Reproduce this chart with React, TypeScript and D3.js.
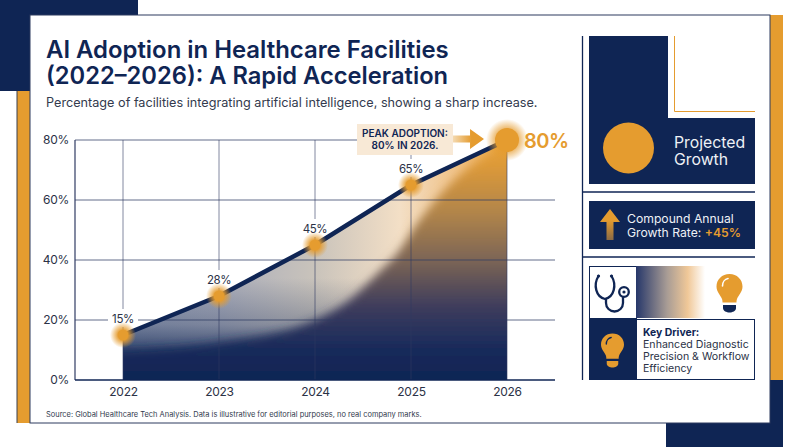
import * as d3 from "d3";
import { useEffect, useRef } from "react";

const WIDTH = 800;
const HEIGHT = 447;

const NAVY = "#0f2554";
const ORANGE = "#e59c2f";
const FONT = "Inter, 'Noto Sans', sans-serif";

const years = [2022, 2023, 2024, 2025, 2026];
const adoption = [15, 28, 45, 65, 80];
const yTicks = [0, 20, 40, 60, 80];

// edge of the dark/orange swoosh inside the area
const swooshYears = [2021.5, 2022, 2023, 2024, 2024.35, 2024.68, 2024.85, 2025.06, 2025.23, 2025.48, 2025.8, 2026.5];
const swooshValues = [9.5, 10, 12.5, 20, 26.5, 36.5, 42, 52, 59, 67.5, 75, 84];

const margin = { top: 140, right: 245, bottom: 67, left: 75 };
const LABEL_BOX = { x: 357, y: 124, w: 96, h: 31 };

function Bulb({ x, y, r, base, mark }: { x: number; y: number; r: number; base: string; mark: string }) {
    return (
        <g transform={`translate(${x},${y}) scale(${r / 13})`}>
            <path
                d="M0 -13 C7.5 -13 13 -7.5 13 -0.5 C13 5 9 8 7.5 12 C7 13.5 7 14.5 7 15.5 L-7 15.5 C-7 14.5 -7 13.5 -7.5 12 C-9 8 -13 5 -13 -0.5 C-13 -7.5 -7.5 -13 0 -13 Z"
                fill={ORANGE}
            />
            <path d="M-7 -1 C-7 -5 -4.5 -8 -1.5 -8.5" fill="none" stroke={mark} strokeWidth={1.6} strokeLinecap="round" />
            <path d="M-6.5 18 L6.5 18 L6.5 21 C6.5 24 3 25.5 0 25.5 C-3 25.5 -6.5 24 -6.5 21 Z" fill={base} />
        </g>
    );
}

export default function App() {
    const xAxisRef = useRef<SVGGElement | null>(null);
    const yAxisRef = useRef<SVGGElement | null>(null);

    const x = d3.scaleLinear().domain([2021.5, 2026.5]).range([margin.left, WIDTH - margin.right]);
    const y = d3.scaleLinear().domain([0, 80]).range([HEIGHT - margin.bottom, margin.top]);
    const points = years.map((year, i) => ({ year, value: adoption[i] }));
    const last = points[points.length - 1];

    const line = d3.line<{ year: number; value: number }>().x((d) => x(d.year)).y((d) => y(d.value));
    const area = d3
        .area<{ year: number; value: number }>()
        .x((d) => x(d.year))
        .y0(y(0))
        .y1((d) => y(d.value));
    const swoosh = d3
        .area<number>()
        .x((_, i) => x(swooshYears[i]))
        .y0(y(-8))
        .y1((d) => y(d))
        .curve(d3.curveMonotoneX);

    useEffect(() => {
        const styleAxis = (g: d3.Selection<SVGGElement, unknown, null, undefined>) => {
            g.select(".domain").remove();
            g.selectAll("text").attr("font-family", FONT).attr("fill", "#2b3246").attr("letter-spacing", -0.3);
        };
        d3.select(xAxisRef.current!)
            .call(d3.axisBottom(x).tickValues(years).tickSize(0).tickPadding(7).tickFormat(d3.format("d")) as any)
            .call(styleAxis as any)
            .selectAll("text")
            .attr("font-size", 12);
        d3.select(yAxisRef.current!)
            .call(d3.axisLeft(y).tickValues(yTicks).tickSize(0).tickPadding(6).tickFormat((d) => `${d}%`) as any)
            .call(styleAxis as any)
            .selectAll("text")
            .attr("font-size", 12);
    }, []);

    return (
        <svg
            width={WIDTH}
            height={HEIGHT}
            viewBox={`0 0 ${WIDTH} ${HEIGHT}`}
            style={{ position: "absolute", left: 0, top: 0, display: "block", background: "#fff" }}
            fontFamily={FONT}
        >
            <defs>
                <linearGradient id="baseFill" gradientUnits="userSpaceOnUse" x1={x(2022)} x2={x(2026)} y1={0} y2={0}>
                    <stop offset="0" stopColor="#9aa3b8" />
                    <stop offset="0.25" stopColor="#abaebb" />
                    <stop offset="0.5" stopColor="#c9c3bb" />
                    <stop offset="0.72" stopColor="#f3dfc6" />
                    <stop offset="0.88" stopColor="#f0c083" />
                    <stop offset="1" stopColor="#e8a038" />
                </linearGradient>
                <linearGradient id="baseShade" gradientUnits="userSpaceOnUse" x1={0} x2={0} y1={y(10)} y2={y(34)}>
                    <stop offset="0" stopColor={NAVY} stopOpacity={0.7} />
                    <stop offset="0.35" stopColor={NAVY} stopOpacity={0.3} />
                    <stop offset="1" stopColor={NAVY} stopOpacity={0} />
                </linearGradient>
                <linearGradient id="swooshFill" gradientUnits="userSpaceOnUse" x1={0} x2={0} y1={y(0)} y2={y(80)}>
                    <stop offset="0" stopColor={NAVY} />
                    <stop offset="0.12" stopColor="#16295a" />
                    <stop offset="0.3" stopColor="#3c3b5c" />
                    <stop offset="0.5" stopColor="#7c6555" />
                    <stop offset="0.7" stopColor="#b2854a" />
                    <stop offset="0.9" stopColor="#de9a38" />
                    <stop offset="1" stopColor="#eaa238" />
                </linearGradient>
                <radialGradient id="glow">
                    <stop offset="0.45" stopColor={ORANGE} stopOpacity={0.85} />
                    <stop offset="1" stopColor={ORANGE} stopOpacity={0} />
                </radialGradient>
                <linearGradient id="peakArrow" x1="0" x2="1" y1="0" y2="0">
                    <stop offset="0" stopColor="#f4d9b0" />
                    <stop offset="0.6" stopColor={ORANGE} />
                </linearGradient>
                <linearGradient id="upArrow" x1="0" x2="0" y1="0" y2="1">
                    <stop offset="0.35" stopColor={ORANGE} />
                    <stop offset="1" stopColor="#8a6a45" />
                </linearGradient>
                <linearGradient id="driverFill" x1="0" x2="1" y1="0" y2="0">
                    <stop offset="0" stopColor="#26376a" />
                    <stop offset="0.45" stopColor="#a89c95" />
                    <stop offset="0.75" stopColor="#f0c898" />
                    <stop offset="1" stopColor="#ffffff" />
                </linearGradient>
                <filter id="soft" x="-5%" y="-5%" width="110%" height="110%">
                    <feGaussianBlur stdDeviation="5" />
                </filter>
                <clipPath id="underLine">
                    <path d={area(points) ?? ""} />
                </clipPath>
            </defs>

            {/* frame blocks behind the card */}
            <rect x={0} y={0} width={138} height={91} fill={NAVY} />
            <rect x={17} y={91} width={13} height={332} fill={ORANGE} />
            <rect x={16.5} y={91} width={1} height={332} fill="#3b4150" />
            <rect x={770} y={15} width={13} height={365} fill={ORANGE} />
            <rect x={666} y={380} width={117} height={67} fill={NAVY} />
            <rect x={30} y={15} width={740} height={408} fill="#fff" stroke="#2c3a5e" strokeWidth={1} />

            <text x={46} y={58} fontSize={23.9} fontWeight={600} fill={NAVY}>
                AI Adoption in Healthcare Facilities
            </text>
            <text x={46} y={84} fontSize={23.7} fontWeight={600} fill={NAVY}>
                (2022–2026): A Rapid Acceleration
            </text>
            <text x={46} y={107} fontSize={12.67} fill="#333b4e">
                Percentage of facilities integrating artificial intelligence, showing a sharp increase.
            </text>

            {/* area */}
            <g clipPath="url(#underLine)">
                <rect x={x(2022)} y={y(80)} width={x(2026) - x(2022)} height={y(0) - y(80)} fill="url(#baseFill)" />
                <rect x={x(2022)} y={y(80)} width={x(2026) - x(2022)} height={y(0) - y(80)} fill="url(#baseShade)" />
                <path d={swoosh(swooshValues) ?? ""} fill="url(#swooshFill)" filter="url(#soft)" />
            </g>

            {/* grid */}
            {yTicks.filter((t) => t > 0).map((t) => (
                <line
                    key={t}
                    x1={margin.left}
                    x2={t === 80 ? LABEL_BOX.x : WIDTH - margin.right}
                    y1={y(t)}
                    y2={y(t)}
                    stroke="#2f3b63"
                    strokeOpacity={0.75}
                />
            ))}
            {years.map((year) => (
                <line key={year} x1={x(year)} x2={x(year)} y1={y(80)} y2={y(0)} stroke="#2f3b63" strokeOpacity={0.6} />
            ))}
            <line x1={margin.left} x2={margin.left} y1={y(80)} y2={y(0)} stroke="#2f3b63" strokeWidth={1.2} />
            <line x1={margin.left} x2={WIDTH - margin.right} y1={y(0)} y2={y(0)} stroke={NAVY} strokeWidth={1.6} />
            <g ref={xAxisRef} transform={`translate(0,${y(0)})`} />
            <g ref={yAxisRef} transform={`translate(${margin.left},0)`} />

            {/* value labels knock out the grid behind them */}
            {points.slice(0, -1).map((d) => (
                <g key={d.year}>
                    <rect x={x(d.year) - 15} y={y(d.value) - 26} width={30} height={18} fill="#fff" />
                    <text x={x(d.year)} y={y(d.value) - 12} textAnchor="middle" fontSize={11.5} letterSpacing={-0.4} fill="#2b3246">
                        {d.value}%
                    </text>
                </g>
            ))}

            <path d={line(points) ?? ""} fill="none" stroke={NAVY} strokeWidth={4.5} />
            {points.slice(0, -1).map((d) => (
                <g key={d.year}>
                    <circle cx={x(d.year)} cy={y(d.value)} r={13} fill="url(#glow)" />
                    <circle cx={x(d.year)} cy={y(d.value)} r={5.5} fill={ORANGE} />
                </g>
            ))}
            <circle cx={x(last.year)} cy={y(last.value)} r={21} fill="url(#glow)" />
            <circle cx={x(last.year)} cy={y(last.value)} r={12} fill={ORANGE} />
            <text x={524} y={y(last.value) + 7.5} fontSize={20} letterSpacing={-0.5} fontWeight={600} fill={ORANGE}>
                {last.value}%
            </text>

            {/* peak callout */}
            <rect x={LABEL_BOX.x} y={LABEL_BOX.y} width={LABEL_BOX.w} height={LABEL_BOX.h} fill="#f8e9d6" />
            <text x={405} y={137} textAnchor="middle" fontSize={10} fontWeight={600} fill={NAVY}>
                PEAK ADOPTION:
            </text>
            <text x={405} y={149} textAnchor="middle" fontSize={10} fontWeight={600} fill={NAVY}>
                80% IN 2026.
            </text>
            <path d="M453 135.5 H470 V129 L484 139 L470 149 V142.5 H453 Z" fill="url(#peakArrow)" />

            {/* right panel */}
            <line x1={582.5} x2={582.5} y1={36} y2={380} stroke={NAVY} strokeWidth={1.3} />
            <line x1={582} x2={755} y1={192} y2={192} stroke={NAVY} strokeWidth={1.3} />
            <line x1={582} x2={755} y1={257} y2={257} stroke={NAVY} strokeWidth={1.3} />

            <path d="M589 36 H668 V118 H755 V184 H589 Z" fill={NAVY} />
            <path d="M674.5 36 V111.5 H755" fill="none" stroke={ORANGE} strokeWidth={1} />
            <circle cx={628.5} cy={148} r={25.5} fill={ORANGE} />
            <text x={674} y={148} fontSize={15.8} fill="#eef1f6">Projected</text>
            <text x={674} y={165} fontSize={15.8} fill="#eef1f6">Growth</text>

            <rect x={589} y={201} width={166} height={48} fill={NAVY} />
            <path d="M600 222 L610 209 L620 222 H613.5 V240 H606.5 V222 Z" fill="url(#upArrow)" />
            <text x={627} y={222.5} fontSize={12.2} fill="#eef1f6">Compound Annual</text>
            <text x={627} y={236.5} fontSize={12.2} fill="#eef1f6">
                Growth Rate: <tspan fill={ORANGE} fontWeight={600}>+45%</tspan>
            </text>

            <rect x={589.5} y={266.5} width={165} height={113} fill="#fff" />
            <rect x={589.5} y={266.5} width={47} height={52} fill="#fff" stroke={NAVY} />
            <rect x={636} y={266} width={69} height={52} fill="url(#driverFill)" />
            <g fill="none" stroke={NAVY} strokeWidth={2.3} strokeLinecap="round">
                <path d="M598.5 276 C593 285 596 297 605 299 C614 297 617 285 611.5 276" />
                <path d="M606 299 V303 A8.5 8.5 0 0 0 623 303 V298" />
                <circle cx={624} cy={292} r={4.8} />
            </g>
            <circle cx={598.5} cy={276} r={1.6} fill={NAVY} />
            <circle cx={611.5} cy={276} r={1.6} fill={NAVY} />
            <circle cx={624} cy={292} r={1.6} fill={NAVY} />
            <Bulb x={729.5} y={287} r={13} base={NAVY} mark="#fff" />

            <rect x={589} y={319} width={47} height={61} fill={NAVY} />
            <Bulb x={612.5} y={345} r={11.5} base={ORANGE} mark={NAVY} />
            <rect x={636.5} y={319.5} width={118} height={60} fill="#fff" stroke={NAVY} />
            <text x={643} y={336} fontSize={10.4} fontWeight={700} fill={NAVY}>Key Driver:</text>
            <text x={643} y={348} fontSize={10.6} fill="#2b3246">Enhanced Diagnostic</text>
            <text x={643} y={360} fontSize={10.6} fill="#2b3246">Precision &amp; Workflow</text>
            <text x={643} y={372} fontSize={10.6} fill="#2b3246">Efficiency</text>

            <text x={46} y={417} fontSize={7.46} fill="#333b4e">
                Source: Global Healthcare Tech Analysis. Data is illustrative for editorial purposes, no real company marks.
            </text>
        </svg>
    );
}
